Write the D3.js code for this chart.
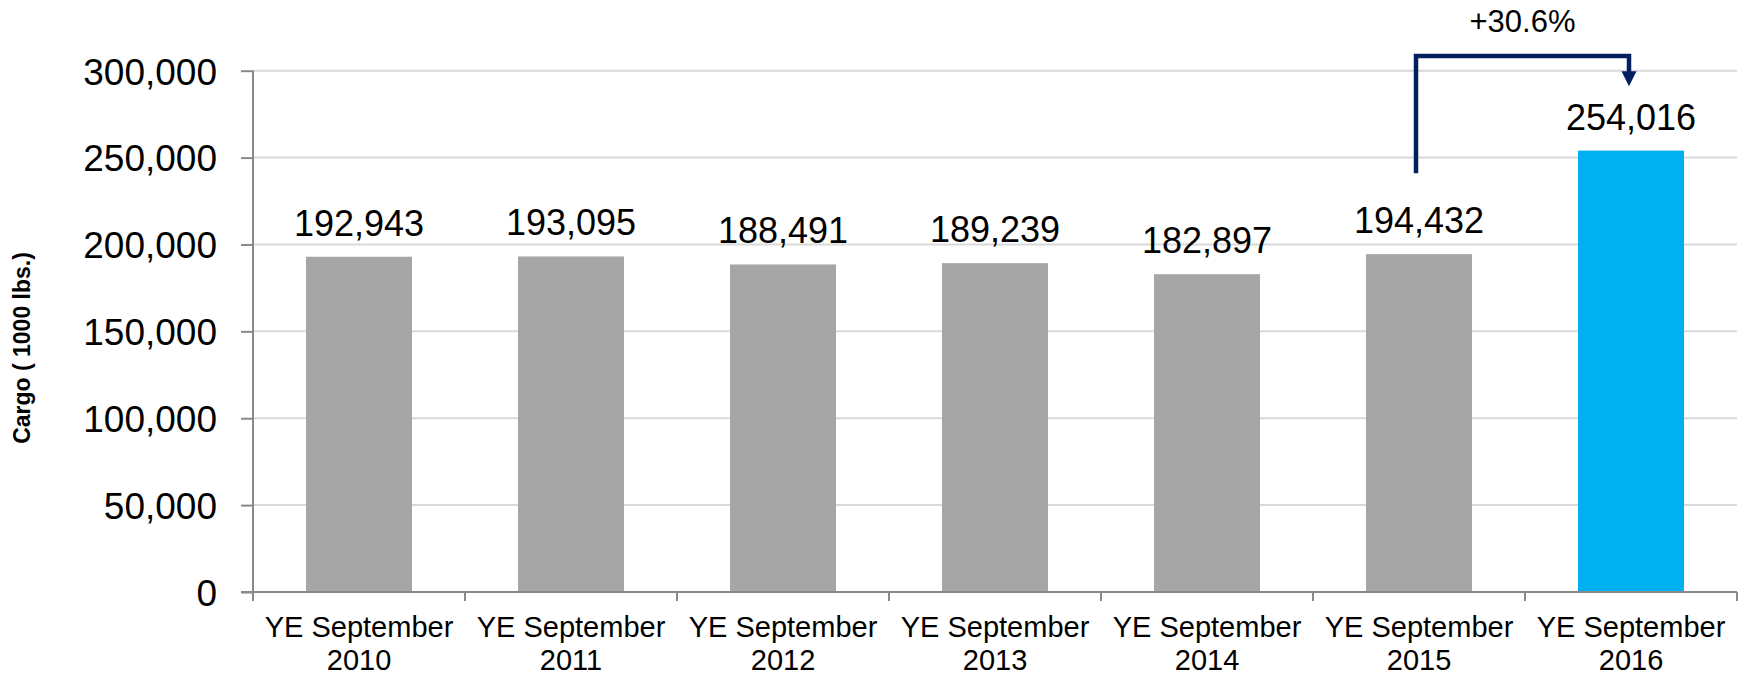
<!DOCTYPE html>
<html>
<head>
<meta charset="utf-8">
<script src="https://cdn.jsdelivr.net/npm/d3@7"></script>
<style>
  body { margin: 0; background: #fff; }
  svg text { font-family: "Liberation Sans", Arial, sans-serif; fill: #000; }
  .grid line { stroke: #d9d9d9; stroke-width: 2; }
  .axisLine { stroke: #898989; stroke-width: 2; }
</style>
</head>
<body>
<div id="chart"></div>
<script>

var categories = ["YE September 2010", "YE September 2011", "YE September 2012", "YE September 2013",
                  "YE September 2014", "YE September 2015", "YE September 2016"];
var cargo = [192943, 193095, 188491, 189239, 182897, 194432, 254016];
var barColors = ["#a6a6a6", "#a6a6a6", "#a6a6a6", "#a6a6a6", "#a6a6a6", "#a6a6a6", "#00b0f0"];
var yTicks = [0, 50000, 100000, 150000, 200000, 250000, 300000];

// growth annotation: from 2015 bar up and over to 2016 bar
var growthLabel = "+30.6%";
var growthFrom = "YE September 2015";
var growthTo = "YE September 2016";
var growthLevels = { start: 241000, top: 308500, tip: 291000 };

var margin = { left: 253, right: 9, top: 70.7, bottom: 84 };
var W = 1746, H = 676;
var width = W - margin.left - margin.right;
var height = H - margin.top - margin.bottom;

var svg = d3.select("#chart").append("svg")
    .attr("width", W)
    .attr("height", H);

var g = svg.append("g")
    .attr("transform", "translate(" + margin.left + "," + margin.top + ")");

var x = d3.scaleBand()
    .domain(categories)
    .range([0, width])
    .paddingInner(0.5)
    .paddingOuter(0.25);

var y = d3.scaleLinear()
    .domain([0, 300000])
    .range([height, 0]);

var fmt = d3.format(",");

// gridlines
g.append("g")
    .attr("class", "grid")
    .selectAll("line")
    .data(yTicks.filter(function(d){ return d > 0 }))
    .enter().append("line")
    .attr("x1", 0)
    .attr("x2", width)
    .attr("y1", function(d){ return y(d) })
    .attr("y2", function(d){ return y(d) });

// bars
g.selectAll(".bar")
    .data(cargo)
    .enter().append("rect")
    .attr("class", "bar")
    .attr("x", function(d, i){ return x(categories[i]) })
    .attr("width", x.bandwidth())
    .attr("y", function(d){ return y(d) })
    .attr("height", function(d){ return height - y(d) })
    .attr("fill", function(d, i){ return barColors[i] });

// value labels
g.selectAll(".val")
    .data(cargo)
    .enter().append("text")
    .attr("class", "val")
    .attr("x", function(d, i){ return x(categories[i]) + x.bandwidth() / 2 })
    .attr("y", function(d){ return y(d) - 21 })
    .attr("text-anchor", "middle")
    .style("font-size", "36px")
    .text(function(d){ return fmt(d) });

// y axis
var yAxis = d3.axisLeft(y).tickValues(yTicks).tickFormat(fmt).tickSize(12).tickPadding(24);
var yg = g.append("g").call(yAxis);
yg.select(".domain").remove();
yg.selectAll(".tick line").attr("stroke", "#898989").attr("stroke-width", 2);
yg.selectAll(".tick text").style("font-size", "37px").attr("dy", "0.36em").attr("fill", "#000");
g.append("line").attr("class", "axisLine")
    .attr("x1", 0).attr("x2", 0).attr("y1", 0).attr("y2", height + 9);

// x axis
g.append("line").attr("class", "axisLine")
    .attr("x1", -12).attr("x2", width).attr("y1", height).attr("y2", height);

var step = x.step();
g.selectAll(".xtick")
    .data(categories)
    .enter().append("line")
    .attr("class", "axisLine xtick")
    .attr("x1", function(d){ return x(d) + x.bandwidth() / 2 + step / 2 })
    .attr("x2", function(d){ return x(d) + x.bandwidth() / 2 + step / 2 })
    .attr("y1", height)
    .attr("y2", height + 9);

var xl = g.selectAll(".xlab")
    .data(categories)
    .enter().append("text")
    .attr("class", "xlab")
    .attr("text-anchor", "middle")
    .style("font-size", "29px")
    .attr("transform", function(d){ return "translate(" + (x(d) + x.bandwidth() / 2) + "," + (height + 45) + ")" });

xl.append("tspan")
    .attr("x", 0).attr("y", 0)
    .text(function(d){ return d.slice(0, d.lastIndexOf(" ")) });
xl.append("tspan")
    .attr("x", 0).attr("y", 33)
    .text(function(d){ return d.slice(d.lastIndexOf(" ") + 1) });

// y axis title
svg.append("text")
    .attr("transform", "translate(30," + 348 + ") rotate(-90)")
    .attr("text-anchor", "middle")
    .style("font-size", "23px")
    .style("font-weight", "bold")
    .text("Cargo ( 1000 lbs.)");

// growth arrow
var ax1 = x(growthFrom) + x.bandwidth() / 2 - 3;
var ax2 = x(growthTo) + x.bandwidth() / 2 - 2;
var navy = "#002060";

g.append("path")
    .attr("d", d3.line()([[ax1, y(growthLevels.start)], [ax1, y(growthLevels.top)],
                          [ax2, y(growthLevels.top)], [ax2, y(growthLevels.tip) - 13]]))
    .attr("fill", "none")
    .attr("stroke", navy)
    .attr("stroke-width", 4.5)
    .attr("stroke-linejoin", "miter");

g.append("path")
    .attr("d", d3.line()([[ax2 - 7.5, y(growthLevels.tip) - 15], [ax2 + 7.5, y(growthLevels.tip) - 15],
                          [ax2, y(growthLevels.tip)]]) + "Z")
    .attr("fill", navy);

g.append("text")
    .attr("x", (ax1 + ax2) / 2)
    .attr("y", y(growthLevels.top) - 24)
    .attr("text-anchor", "middle")
    .style("font-size", "31px")
    .text(growthLabel);

</script>
</body>
</html>
